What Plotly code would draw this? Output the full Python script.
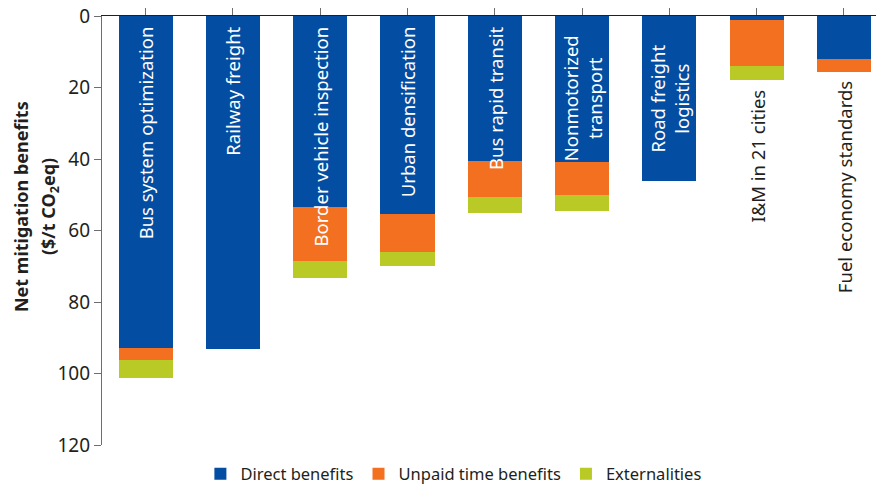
import plotly.graph_objects as go

# categories (bar labels) and stacked components, $/t CO2eq
categories = [
    "Bus system optimization",
    "Railway freight",
    "Border vehicle inspection",
    "Urban densification",
    "Bus rapid transit",
    "Nonmotorized<br>transport",
    "Road freight<br>logistics",
    "I&M in 21 cities",
    "Fuel economy standards",
]
direct_benefits = [92.8, 93.1, 53.5, 55.4, 40.6, 40.9, 46.2, 1.2, 12.1]
unpaid_time_benefits = [3.5, 0, 15.1, 10.6, 10.1, 9.2, 0, 12.9, 3.6]
externalities = [4.9, 0, 4.6, 3.9, 4.4, 4.4, 0, 3.9, 0]

colors = {
    'direct': '#034ea2',
    'unpaid': '#f37021',
    'ext': '#b9c925',
    'text': '#231f20',
    'axis': '#6d6e71',
}
FONT = "Noto Sans"

x = list(range(len(categories)))

fig = go.Figure()
for name, vals, col in [
    ('Direct benefits', direct_benefits, colors['direct']),
    ('Unpaid time benefits', unpaid_time_benefits, colors['unpaid']),
    ('Externalities', externalities, colors['ext']),
]:
    fig.add_trace(go.Bar(
        x=x, y=vals, name=name, marker_color=col,
        marker_line_width=0, width=0.62,
    ))

# labels written along the bars
for i, label in enumerate(categories):
    total = direct_benefits[i] + unpaid_time_benefits[i] + externalities[i]
    inside = direct_benefits[i] > 30
    if not inside:
        y, yanchor, color = total + 2, 'top', colors['text']
    elif '<br>' in label:
        y, yanchor, color = 23, 'middle', 'white'
    else:
        y, yanchor, color = 2.3, 'top', 'white'
    fig.add_annotation(
        x=i, y=y, text=label, textangle=-90, showarrow=False,
        xanchor='center', yanchor=yanchor, align='center',
        font=dict(family=FONT, size=18.5, color=color),
    )

# y axis title, two lines placed separately
for xp, line in [(-0.1036, "<b>Net mitigation benefits</b>"),
                 (-0.0678, "<b>($/t CO<sub>2</sub>eq)</b>")]:
    fig.add_annotation(
        xref='paper', yref='paper', x=xp, y=0.557, text=line,
        textangle=-90, showarrow=False, xanchor='center', yanchor='middle',
        font=dict(family=FONT, size=18, color=colors['text']),
    )

# page body adds an 8px margin, so the figure is kept 8px smaller
fig.update_layout(
    barmode='stack',
    width=876, height=479,
    margin=dict(l=94, r=0, t=7.6, b=41.5, autoexpand=False),
    plot_bgcolor='white', paper_bgcolor='white',
    font=dict(family=FONT, size=16.5, color=colors['text']),
    bargap=0,
    legend=dict(
        orientation='h', x=0.45, xanchor='center', traceorder='normal',
        yref='container', y=0.027, yanchor='middle',
        font=dict(family=FONT, size=16.5, color=colors['text']),
        itemclick=False,
    ),
    xaxis=dict(
        range=[-0.5, 8.46], side='top', showticklabels=False,
        tickmode='array', tickvals=x, tickson='boundaries',
        ticks='outside', ticklen=7, tickcolor=colors['axis'], tickwidth=1.3,
        showline=True, linecolor=colors['text'], linewidth=1.3,
        showgrid=False, zeroline=False, automargin=False,
    ),
    yaxis=dict(
        range=[120, 0], tickvals=[0, 20, 40, 60, 80, 100, 120],
        ticks='outside', ticklen=7, tickcolor=colors['axis'], tickwidth=1.3,
        showline=True, linecolor=colors['axis'], linewidth=1.3,
        showgrid=False, zeroline=False, automargin=False,
        ticklabeloverflow='allow',
        tickfont=dict(family=FONT, size=19, color=colors['text']),
    ),
)

fig.write_html("out.html")
